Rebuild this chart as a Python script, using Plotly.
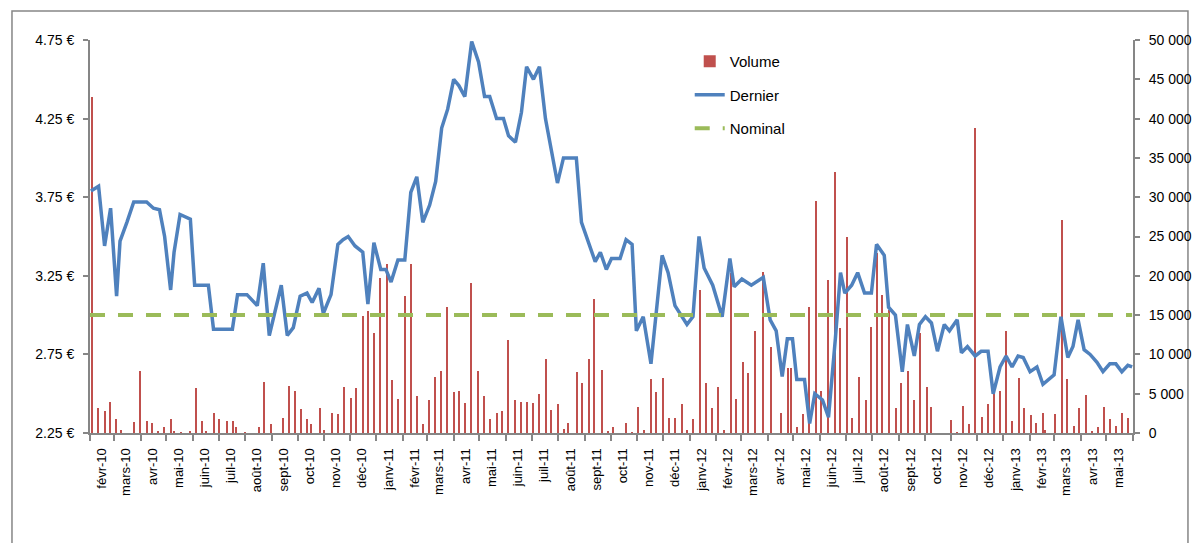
import plotly.graph_objects as go
import pandas as pd

# ---- Data -------------------------------------------------------------
dernier_dates = [
    "2010-02-02", "2010-02-11", "2010-02-18", "2010-02-25", "2010-03-04", "2010-03-08",
    "2010-03-16", "2010-03-24", "2010-04-08", "2010-04-16", "2010-04-23", "2010-04-29",
    "2010-05-06", "2010-05-10", "2010-05-17", "2010-05-29", "2010-06-03", "2010-06-19",
    "2010-06-25", "2010-07-17", "2010-07-23", "2010-08-03", "2010-08-15", "2010-08-22",
    "2010-08-29", "2010-09-12", "2010-09-19", "2010-09-26", "2010-10-04", "2010-10-12",
    "2010-10-18", "2010-10-26", "2010-10-31", "2010-11-09", "2010-11-17", "2010-11-23",
    "2010-11-29", "2010-12-07", "2010-12-16", "2010-12-22", "2010-12-29", "2011-01-06",
    "2011-01-12", "2011-01-18", "2011-01-26", "2011-02-03", "2011-02-10", "2011-02-17",
    "2011-02-24", "2011-03-04", "2011-03-11", "2011-03-18", "2011-03-25", "2011-04-01",
    "2011-04-07", "2011-04-14", "2011-04-22", "2011-04-30", "2011-05-07", "2011-05-13",
    "2011-05-21", "2011-05-29", "2011-06-04", "2011-06-12", "2011-06-19", "2011-06-25",
    "2011-07-03", "2011-07-10", "2011-07-17", "2011-07-24", "2011-07-31", "2011-08-07",
    "2011-08-22", "2011-08-28", "2011-09-05", "2011-09-13", "2011-09-19", "2011-09-26",
    "2011-10-02", "2011-10-12", "2011-10-19", "2011-10-26", "2011-10-31", "2011-11-08",
    "2011-11-17", "2011-11-30", "2011-12-07", "2011-12-15", "2011-12-29", "2012-01-05",
    "2012-01-12", "2012-01-18", "2012-01-28", "2012-02-08", "2012-02-17", "2012-02-22",
    "2012-03-02", "2012-03-13", "2012-03-27", "2012-04-04", "2012-04-11", "2012-04-18",
    "2012-04-24", "2012-04-30", "2012-05-05", "2012-05-14", "2012-05-20", "2012-05-26",
    "2012-06-04", "2012-06-11", "2012-06-19", "2012-06-25", "2012-06-30", "2012-07-08",
    "2012-07-15", "2012-07-23", "2012-07-31", "2012-08-06", "2012-08-15", "2012-08-20",
    "2012-08-28", "2012-09-05", "2012-09-11", "2012-09-19", "2012-09-25", "2012-10-02",
    "2012-10-09", "2012-10-16", "2012-10-24", "2012-10-30", "2012-11-08", "2012-11-13",
    "2012-11-20", "2012-11-29", "2012-12-06", "2012-12-14", "2012-12-20", "2012-12-28",
    "2013-01-04", "2013-01-11", "2013-01-18", "2013-01-24", "2013-02-01", "2013-02-09",
    "2013-02-16", "2013-03-01", "2013-03-09", "2013-03-17", "2013-03-23", "2013-03-29",
    "2013-04-05", "2013-04-12", "2013-04-20", "2013-04-27", "2013-05-05", "2013-05-12",
    "2013-05-19", "2013-05-26", "2013-05-31",
]
dernier_values = [
    3.79, 3.82, 3.44, 3.68, 3.12, 3.47,
    3.59, 3.72, 3.72, 3.68, 3.67, 3.50,
    3.16, 3.40, 3.64, 3.61, 3.19, 3.19,
    2.91, 2.91, 3.13, 3.13, 3.06, 3.33,
    2.87, 3.19, 2.87, 2.92, 3.12, 3.14,
    3.08, 3.17, 3.01, 3.13, 3.45, 3.48,
    3.50, 3.44, 3.40, 3.07, 3.46, 3.29,
    3.29, 3.21, 3.35, 3.35, 3.78, 3.88,
    3.59, 3.70, 3.85, 4.19, 4.31, 4.50,
    4.46, 4.39, 4.74, 4.61, 4.39, 4.39,
    4.25, 4.25, 4.14, 4.10, 4.29, 4.58,
    4.50, 4.58, 4.25, 4.03, 3.84, 4.00,
    4.00, 3.59, 3.47, 3.34, 3.40, 3.29,
    3.36, 3.36, 3.48, 3.45, 2.90, 2.99,
    2.69, 3.38, 3.27, 3.06, 2.94, 2.99,
    3.50, 3.30, 3.19, 2.99, 3.36, 3.18,
    3.23, 3.19, 3.24, 2.97, 2.90, 2.61,
    2.85, 2.85, 2.59, 2.59, 2.31, 2.50,
    2.46, 2.35, 2.85, 3.27, 3.14, 3.19,
    3.27, 3.14, 3.14, 3.45, 3.38, 3.05,
    3.00, 2.64, 2.94, 2.74, 2.94, 2.99,
    2.95, 2.77, 2.94, 2.90, 2.97, 2.76,
    2.80, 2.74, 2.77, 2.77, 2.50, 2.67,
    2.74, 2.67, 2.74, 2.73, 2.64, 2.67,
    2.56, 2.62, 2.99, 2.73, 2.80, 2.97,
    2.78, 2.75, 2.70, 2.64, 2.69, 2.69,
    2.64, 2.68, 2.67,
]

volume_dates = [
    "2010-02-04", "2010-02-11", "2010-02-19", "2010-02-25", "2010-03-04", "2010-03-09",
    "2010-03-25", "2010-04-01", "2010-04-09", "2010-04-15", "2010-04-22", "2010-04-28",
    "2010-05-07", "2010-05-10", "2010-05-18", "2010-05-29", "2010-06-05", "2010-06-12",
    "2010-06-17", "2010-06-26", "2010-07-02", "2010-07-11", "2010-07-18", "2010-07-22",
    "2010-08-01", "2010-08-17", "2010-08-23", "2010-08-31", "2010-09-14", "2010-09-21",
    "2010-09-28", "2010-10-05", "2010-10-12", "2010-10-17", "2010-10-27", "2010-11-01",
    "2010-11-10", "2010-11-17", "2010-11-24", "2010-12-02", "2010-12-08", "2010-12-16",
    "2010-12-22", "2010-12-29", "2011-01-05", "2011-01-13", "2011-01-19", "2011-01-26",
    "2011-02-03", "2011-02-10", "2011-02-18", "2011-02-25", "2011-03-03", "2011-03-11",
    "2011-03-18", "2011-03-25", "2011-04-02", "2011-04-08", "2011-04-15", "2011-04-22",
    "2011-04-30", "2011-05-07", "2011-05-14", "2011-05-22", "2011-05-28", "2011-06-04",
    "2011-06-12", "2011-06-19", "2011-06-26", "2011-07-03", "2011-07-10", "2011-07-18",
    "2011-07-24", "2011-08-01", "2011-08-08", "2011-08-12", "2011-08-23", "2011-08-29",
    "2011-09-06", "2011-09-12", "2011-09-21", "2011-09-28", "2011-10-04", "2011-10-19",
    "2011-10-26", "2011-11-02", "2011-11-09", "2011-11-17", "2011-11-23", "2011-12-01",
    "2011-12-08", "2011-12-15", "2011-12-23", "2011-12-29", "2012-01-05", "2012-01-13",
    "2012-01-20", "2012-01-28", "2012-02-03", "2012-02-10", "2012-02-18", "2012-02-24",
    "2012-03-03", "2012-03-09", "2012-03-17", "2012-03-27", "2012-04-05", "2012-04-17",
    "2012-04-25", "2012-04-29", "2012-05-06", "2012-05-13", "2012-05-20", "2012-05-28",
    "2012-06-03", "2012-06-11", "2012-06-19", "2012-06-25", "2012-07-03", "2012-07-09",
    "2012-07-17", "2012-07-25", "2012-07-31", "2012-08-07", "2012-08-13", "2012-08-21",
    "2012-08-29", "2012-09-04", "2012-09-12", "2012-09-19", "2012-09-26", "2012-10-04",
    "2012-10-09", "2012-11-01", "2012-11-08", "2012-11-15", "2012-11-22", "2012-11-29",
    "2012-12-07", "2012-12-14", "2012-12-21", "2012-12-28", "2013-01-04", "2013-01-11",
    "2013-01-19", "2013-01-25", "2013-02-02", "2013-02-08", "2013-02-16", "2013-02-19",
    "2013-03-02", "2013-03-10", "2013-03-16", "2013-03-24", "2013-03-30", "2013-04-07",
    "2013-04-15", "2013-04-21", "2013-04-29", "2013-05-06", "2013-05-12", "2013-05-20",
    "2013-05-27",
]
volume_values = [
    42780, 3140, 2800, 3990, 1780, 380,
    1400, 7890, 1570, 1230, 250, 720,
    1780, 210, 90, 210, 5680, 1570,
    250, 2590, 1780, 1570, 1570, 810,
    90, 720, 6490, 1100, 1950, 6020,
    5340, 3010, 1780, 1100, 3140, 380,
    2590, 2420, 5810, 4450, 5680, 14880,
    15520, 12680, 19760, 21450, 6740, 4330,
    17430, 21450, 4710, 1100, 4200, 7080,
    7890, 16070, 5170, 5340, 3860, 19040,
    7890, 4710, 1780, 2590, 2800, 11830,
    4200, 3990, 3990, 3770, 4960, 9370,
    2930, 3650, 550, 1230, 7720, 6320,
    9370, 17000, 8010, 250, 720, 1230,
    90, 3270, 380, 6870, 5170, 7040,
    1950, 1950, 3650, 380, 1780, 18190,
    6320, 3140, 5810, 380, 20310, 4280,
    9070, 7590, 12970, 20440, 10900, 2590,
    8230, 8230, 720, 2420, 16070, 29510,
    5340, 19460, 33200, 13310, 24890, 1950,
    7170, 4200, 13530, 22850, 17550, 15650,
    3140, 6320, 7890, 4200, 12760, 5810,
    3270, 1650, 90, 3430, 1100, 38750,
    2080, 3650, 5050, 5340, 12970, 1570,
    7040, 3140, 2290, 1230, 2590, 380,
    2420, 27090, 6830, 890, 3140, 4830,
    210, 720, 3270, 1780, 890, 2590,
    1950,
]

nominal_dates = ["2010-02-01", "2013-05-31"]
nominal_values = [3.00, 3.00]

month_abbr = ["janv", "févr", "mars", "avr", "mai", "juin",
              "juil", "août", "sept", "oct", "nov", "déc"]
month_starts = pd.date_range("2010-02-01", "2013-05-01", freq="MS")
tick_labels = [f"{month_abbr[d.month - 1]}-{d.strftime('%y')}" for d in month_starts]
tick_positions = [d + pd.Timedelta(days=14) for d in month_starts]
boundary_ticks = list(pd.date_range("2010-02-01", "2013-06-01", freq="MS"))

price_ticks = [2.25, 2.75, 3.25, 3.75, 4.25, 4.75]
price_tick_text = [f"{v:.2f} €" for v in price_ticks]
volume_ticks = [0, 5000, 10000, 15000, 20000, 25000, 30000, 35000, 40000, 45000, 50000]
volume_tick_text = [f"{v:,}".replace(",", " ") for v in volume_ticks]

# ---- Figure -----------------------------------------------------------
AX = "#868686"
FONT = "Liberation Sans"

fig = go.Figure()

fig.add_trace(go.Bar(
    x=volume_dates, y=volume_values, name="Volume",
    marker=dict(color="#C0504D", line=dict(width=0)),
    width=1.7 * 86400000, yaxis="y", legendgroup="a",
))
fig.add_trace(go.Scatter(
    x=dernier_dates, y=dernier_values, name="Dernier", mode="lines",
    line=dict(color="#4F81BD", width=3.5), yaxis="y2", legendgroup="b",
))
fig.add_trace(go.Scatter(
    x=nominal_dates, y=nominal_values, name="Nominal", mode="lines",
    line=dict(color="#9BBB59", width=4, dash="15px,13px"), yaxis="y2", legendgroup="c",
))

# the page body adds an 8px offset, so the figure is sized to fit the window
fig.update_layout(
    width=1192, height=535,
    margin=dict(l=82, r=67, t=32, b=110, autoexpand=False),
    paper_bgcolor="white", plot_bgcolor="white",
    font=dict(family=FONT, size=14, color="#000000"),
    bargap=0,
    showlegend=True,
    legend=dict(
        x=0.575, y=0.987, xanchor="left", yanchor="top",
        font=dict(family=FONT, size=15, color="#000000"),
        bgcolor="rgba(0,0,0,0)", tracegroupgap=11,
        traceorder="grouped",
    ),
    xaxis=dict(
        type="date", automargin=False,
        range=["2010-02-01", "2013-06-01"],
        tickmode="array", tickvals=tick_positions, ticktext=tick_labels,
        tickangle=-90, ticks="outside", ticklen=8, tickcolor="rgba(0,0,0,0)",
        tickfont=dict(family=FONT, size=13, color="#000000"),
        showline=True, linecolor=AX, linewidth=2,
        showgrid=False, zeroline=False,
        minor=dict(tickmode="array", tickvals=boundary_ticks, ticks="outside",
                   ticklen=6, tickwidth=2, tickcolor=AX, showgrid=False),
    ),
    yaxis=dict(
        side="right", range=[0, 50000], automargin=False,
        tickmode="array", tickvals=volume_ticks, ticktext=volume_tick_text,
        ticks="outside", ticklen=5, tickwidth=2, tickcolor=AX,
        ticklabelstandoff=6,
        showline=True, linecolor=AX, linewidth=2,
        showgrid=False, zeroline=False,
        tickfont=dict(family=FONT, size=14, color="#000000"),
    ),
    yaxis2=dict(
        side="left", overlaying="y", range=[2.25, 4.75], automargin=False,
        tickmode="array", tickvals=price_ticks, ticktext=price_tick_text,
        ticks="outside", ticklen=5, tickwidth=2, tickcolor=AX,
        ticklabelstandoff=6,
        showline=True, linecolor=AX, linewidth=2,
        showgrid=False, zeroline=False,
        tickfont=dict(family=FONT, size=14, color="#000000"),
    ),
    shapes=[dict(
        type="rect", xref="paper", yref="paper",
        x0=-0.0748, x1=1.0527, y0=-0.45, y1=1.0738,
        line=dict(color=AX, width=1.5), fillcolor="rgba(0,0,0,0)", layer="below",
    )],
)

fig.write_html("out.html")
